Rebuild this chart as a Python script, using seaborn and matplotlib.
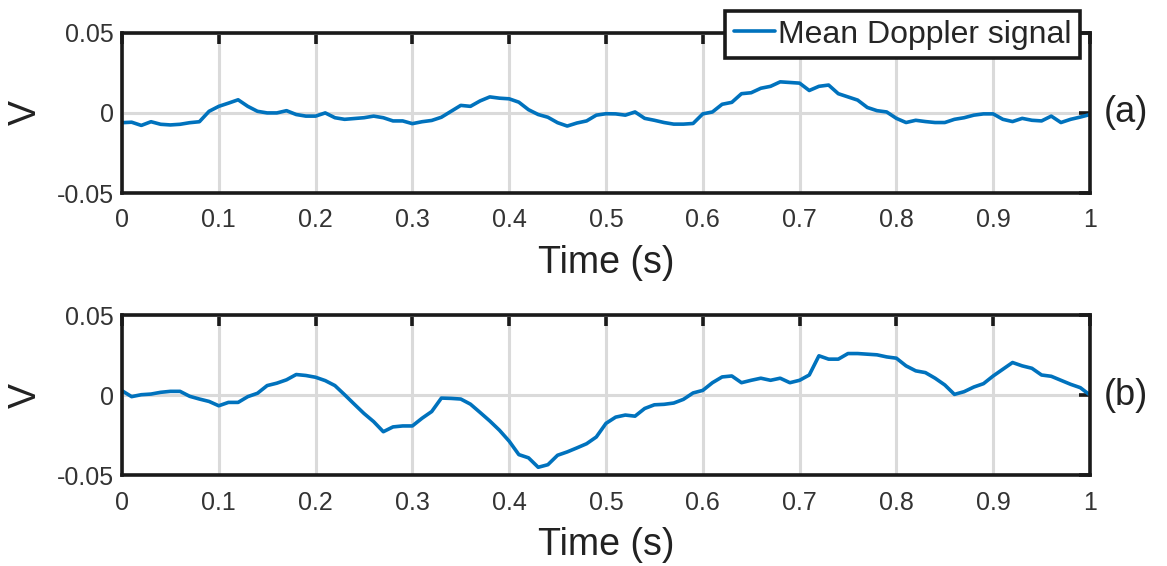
import numpy as np
import pandas as pd
import matplotlib
matplotlib.use("Agg")
import matplotlib.pyplot as plt
import seaborn as sns

sns.set_style("white")
plt.rcParams['font.family'] = ['Liberation Sans', 'DejaVu Sans']

# time axis (s), 10 ms steps
time = [round(0.01 * i, 2) for i in range(101)]

# (a) mean Doppler signal (V)
sig_a = [-0.0061, -0.0058, -0.0078, -0.0055, -0.0071, -0.0075, -0.0071, -0.0061, -0.0055, 0.0010,
         0.0041, 0.0061, 0.0082, 0.0041, 0.0010, 0.0000, 0.0000, 0.0014, -0.0010, -0.0020,
         -0.0020, 0.0000, -0.0030, -0.0040, -0.0035, -0.0030, -0.0020, -0.0030, -0.0050, -0.0050,
         -0.0067, -0.0055, -0.0047, -0.0027, 0.0010, 0.0047, 0.0041, 0.0075, 0.0100, 0.0092,
         0.0088, 0.0067, 0.0020, -0.0010, -0.0027, -0.0061, -0.0082, -0.0063, -0.0050, -0.0014,
         -0.0005, -0.0006, -0.0014, 0.0006, -0.0034, -0.0046, -0.0060, -0.0070, -0.0070, -0.0066,
         -0.0006, 0.0006, 0.0054, 0.0066, 0.0120, 0.0126, 0.0154, 0.0166, 0.0194, 0.0190,
         0.0186, 0.0140, 0.0166, 0.0174, 0.0120, 0.0100, 0.0080, 0.0034, 0.0014, 0.0006,
         -0.0034, -0.0060, -0.0046, -0.0054, -0.0060, -0.0060, -0.0040, -0.0030, -0.0014, -0.0006,
         -0.0006, -0.0040, -0.0054, -0.0034, -0.0046, -0.0050, -0.0020, -0.0060, -0.0040, -0.0026,
         -0.0010]

# (b)
sig_b = [0.0029, -0.0008, 0.0004, 0.0008, 0.0019, 0.0025, 0.0025, -0.0006, -0.0023, -0.0038,
         -0.0065, -0.0044, -0.0044, -0.0008, 0.0013, 0.0061, 0.0076, 0.0097, 0.0130, 0.0124,
         0.0113, 0.0092, 0.0061, 0.0004, -0.0055, -0.0113, -0.0164, -0.0227, -0.0197, -0.0191,
         -0.0191, -0.0143, -0.0101, -0.0017, -0.0019, -0.0023, -0.0055, -0.0107, -0.0160, -0.0218,
         -0.0286, -0.0370, -0.0390, -0.0449, -0.0433, -0.0374, -0.0353, -0.0328, -0.0302, -0.0260,
         -0.0175, -0.0136, -0.0123, -0.0130, -0.0082, -0.0059, -0.0056, -0.0048, -0.0025, 0.0015,
         0.0031, 0.0079, 0.0115, 0.0121, 0.0079, 0.0094, 0.0107, 0.0094, 0.0107, 0.0079,
         0.0094, 0.0127, 0.0247, 0.0226, 0.0226, 0.0261, 0.0261, 0.0257, 0.0253, 0.0240,
         0.0232, 0.0184, 0.0153, 0.0142, 0.0107, 0.0065, 0.0006, 0.0023, 0.0052, 0.0073,
         0.0121, 0.0163, 0.0205, 0.0184, 0.0169, 0.0127, 0.0119, 0.0094, 0.0069, 0.0048,
         0.0002]

panel_labels = ['(a)', '(b)']
x_ticks = [round(0.1 * i, 1) for i in range(11)]
x_ticklabels = ['0', '0.1', '0.2', '0.3', '0.4', '0.5', '0.6', '0.7', '0.8', '0.9', '1']
y_ticks = [-0.05, 0, 0.05]
y_ticklabels = ['-0.05', '0', '0.05']

blue = '#0072BD'

fig = plt.figure(figsize=(11.67, 5.66), dpi=100)
ax_a = fig.add_axes([0.1045, 0.659, 0.8295, 0.283])
ax_b = fig.add_axes([0.1045, 0.160, 0.8295, 0.283])

for ax, sig, lab in zip([ax_a, ax_b], [sig_a, sig_b], panel_labels):
    df = pd.DataFrame({'Time': time, 'V': sig})
    sns.lineplot(data=df, x='Time', y='V', ax=ax, color=blue, linewidth=2.6,
                 label='Mean Doppler signal' if lab == '(a)' else None)
    ax.set_xlim(0, 1)
    ax.set_ylim(-0.05, 0.05)
    ax.set_xticks(x_ticks)
    ax.set_xticklabels(x_ticklabels)
    ax.set_yticks(y_ticks)
    ax.set_yticklabels(y_ticklabels)
    ax.grid(True, color='#dadada', linewidth=2.2)
    ax.set_axisbelow(True)
    for s in ax.spines.values():
        s.set_linewidth(2.6)
        s.set_color('#1a1a1a')
    ax.tick_params(direction='in', length=8, width=2.6, color='#1a1a1a',
                   top=True, right=True, labelsize=18, labelcolor='#333333')
    ax.tick_params(axis='x', pad=11)
    ax.tick_params(axis='y', pad=6)
    ax.set_xlabel('Time (s)', fontsize=27, labelpad=9, color='#222222')
    ax.set_ylabel('V', fontsize=27, labelpad=9, color='#222222')
    ax.text(1.014, 0.5, lab, transform=ax.transAxes, ha='left', va='center',
            fontsize=26, color='#222222')

leg = ax_a.legend(loc='upper right', bbox_to_anchor=(0.99, 1.135), borderaxespad=0,
                  fontsize=23, frameon=True, fancybox=False, borderpad=0.26,
                  handlelength=1.3, handletextpad=0.1)
leg.get_frame().set_edgecolor('#1a1a1a')
leg.get_frame().set_linewidth(2.6)
leg.get_frame().set_alpha(1)

fig.savefig('out.png', dpi=100)
